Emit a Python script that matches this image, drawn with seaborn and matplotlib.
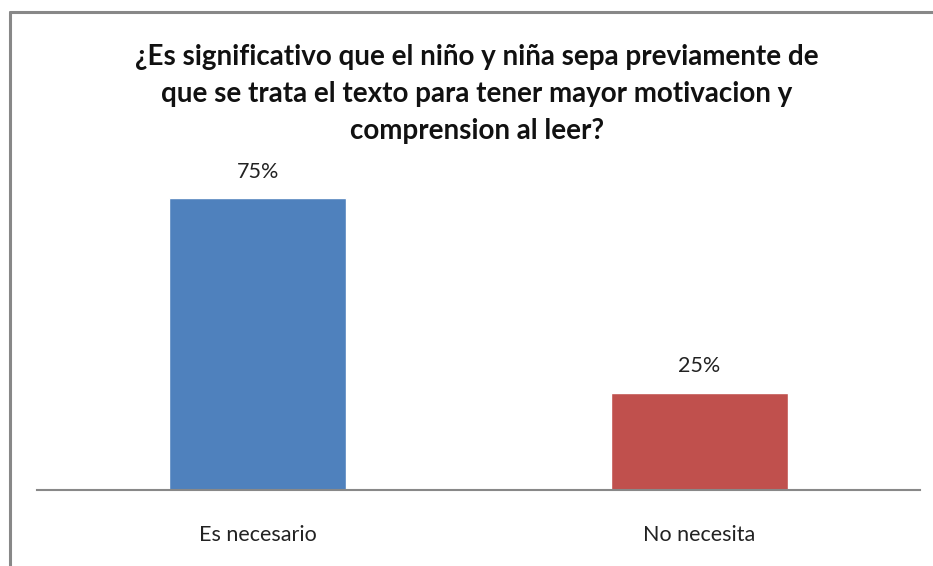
import matplotlib
matplotlib.use("Agg")
import matplotlib.pyplot as plt
import seaborn as sns
import pandas as pd

# datos del grafico
categorias = ["Es necesario", "No necesita"]
valores = [0.75, 0.25]
colores = ["#4F81BD", "#C0504D"]
titulo = ("¿Es significativo que el niño y niña sepa previamente de\n"
          "que se trata el texto para tener mayor motivacion y\n"
          "comprension al leer?")

sns.set_style("white")
plt.rcParams['font.family'] = ['Lato', 'DejaVu Sans']

df = pd.DataFrame({'cat': categorias, 'val': valores})

fig = plt.figure(figsize=(9.33, 5.66), dpi=100)
ax = fig.add_axes([37/933, 1-490/566, 883/933, (490-179)/566])

sns.barplot(data=df, x='cat', y='val', hue='cat', palette=colores,
            width=0.4, saturation=1, legend=False, ax=ax)
ax.set_ylim(0, 0.8)
ax.set_xlim(-0.5, 1.5)

# etiquetas de datos
for i, v in enumerate(valores):
    ax.text(i, v + 0.042, f"{v:.0%}", ha='center', va='bottom', fontsize=15.5, color='#222222')

ax.set_xlabel('')
ax.set_ylabel('')
ax.set_yticks([])
ax.tick_params(axis='x', length=0, pad=25, labelsize=15.5, labelcolor='#222222')
for s in ['top', 'right', 'left']:
    ax.spines[s].set_visible(False)
ax.spines['bottom'].set_color('#888888')
ax.spines['bottom'].set_linewidth(1.5)

fig.text(477/933, 1-94/566, titulo, ha='center', va='center', fontsize=20,
         fontweight='bold', linespacing=1.5, color='#111111')

# marco gris del grafico
fig.add_artist(plt.Line2D([10/933, 10/933], [0, 1-12/566], color='#888888', lw=2.2, transform=fig.transFigure))
fig.add_artist(plt.Line2D([10/933, 1], [1-12/566, 1-12/566], color='#888888', lw=2.2, transform=fig.transFigure))

fig.savefig("out.png", dpi=100)
